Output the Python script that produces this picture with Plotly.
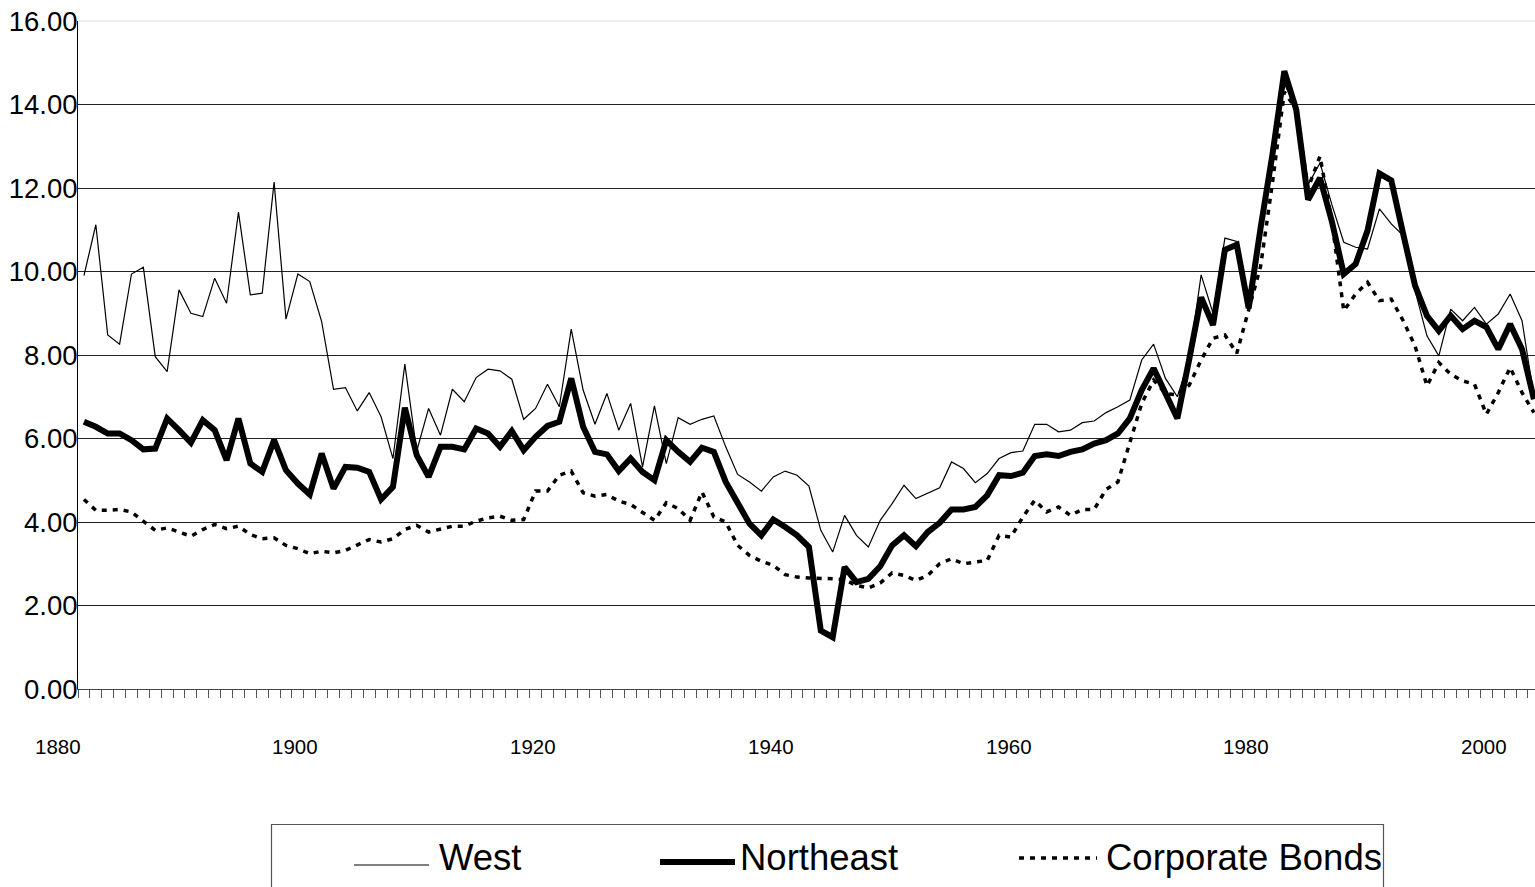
import plotly.graph_objects as go

# ---------------- data ----------------
years = list(range(1880, 2003))

west = [
    9.90, 11.12, 8.48, 8.26, 9.94, 10.10, 7.96, 7.60, 9.56, 9.00,
    8.92, 9.84, 9.24, 11.42, 9.44, 9.48, 12.14, 8.86, 9.94, 9.76,
    8.80, 7.18, 7.22, 6.66, 7.10, 6.52, 5.52, 7.78, 5.70, 6.72,
    6.08, 7.18, 6.88, 7.46, 7.66, 7.62, 7.42, 6.46, 6.72, 7.30,
    6.76, 8.62, 7.16, 6.34, 7.08, 6.20, 6.84, 5.32, 6.78, 5.40,
    6.50, 6.34, 6.46, 6.54, 5.80, 5.14, 4.96, 4.74, 5.08, 5.22,
    5.12, 4.86, 3.80, 3.28, 4.16, 3.68, 3.40, 4.04, 4.44, 4.88,
    4.56, 4.70, 4.82, 5.44, 5.28, 4.94, 5.16, 5.52, 5.66, 5.70,
    6.34, 6.34, 6.16, 6.20, 6.38, 6.42, 6.62, 6.76, 6.92, 7.88,
    8.26, 7.44, 7.00, 7.90, 9.92, 9.00, 10.80, 10.72, 9.12, 10.90,
    12.70, 14.50, 13.90, 12.08, 12.60, 11.60, 10.70, 10.58, 10.54, 11.50,
    11.14, 10.86, 9.54, 8.46, 7.98, 9.10, 8.82, 9.14, 8.74, 8.98,
    9.46, 8.82, 7.00,
]

northeast = [
    6.40, 6.28, 6.12, 6.12, 5.96, 5.74, 5.76, 6.48, 6.20, 5.90,
    6.44, 6.20, 5.48, 6.48, 5.40, 5.20, 5.96, 5.24, 4.92, 4.66,
    5.64, 4.80, 5.32, 5.30, 5.20, 4.54, 4.84, 6.74, 5.60, 5.08,
    5.80, 5.80, 5.74, 6.24, 6.12, 5.80, 6.18, 5.72, 6.04, 6.30,
    6.40, 7.44, 6.28, 5.68, 5.62, 5.22, 5.52, 5.20, 5.00, 5.96,
    5.68, 5.44, 5.78, 5.68, 4.96, 4.48, 3.96, 3.68, 4.06, 3.88,
    3.68, 3.40, 1.40, 1.24, 2.92, 2.56, 2.64, 2.94, 3.44, 3.68,
    3.42, 3.76, 3.98, 4.30, 4.30, 4.36, 4.64, 5.12, 5.10, 5.18,
    5.58, 5.62, 5.58, 5.68, 5.74, 5.88, 5.96, 6.12, 6.48, 7.16,
    7.68, 7.08, 6.48, 7.90, 9.38, 8.72, 10.52, 10.64, 9.12, 11.04,
    12.80, 14.80, 13.88, 11.72, 12.24, 11.20, 9.94, 10.18, 10.98, 12.35,
    12.18, 10.90, 9.66, 8.94, 8.58, 8.94, 8.62, 8.82, 8.67, 8.14,
    8.74, 8.14, 6.94,
]

corporate_bonds = [
    4.54, 4.28, 4.28, 4.30, 4.24, 4.02, 3.80, 3.86, 3.76, 3.66,
    3.82, 3.94, 3.84, 3.90, 3.70, 3.60, 3.62, 3.44, 3.36, 3.24,
    3.30, 3.26, 3.32, 3.46, 3.58, 3.52, 3.60, 3.82, 3.92, 3.76,
    3.82, 3.90, 3.90, 4.02, 4.10, 4.14, 4.04, 4.06, 4.74, 4.74,
    5.12, 5.22, 4.70, 4.62, 4.66, 4.50, 4.42, 4.24, 4.04, 4.46,
    4.32, 4.04, 4.72, 4.12, 4.00, 3.44, 3.20, 3.06, 2.96, 2.74,
    2.68, 2.66, 2.66, 2.64, 2.62, 2.48, 2.42, 2.54, 2.78, 2.72,
    2.60, 2.72, 3.00, 3.12, 3.00, 3.04, 3.08, 3.68, 3.64, 4.12,
    4.52, 4.24, 4.36, 4.16, 4.30, 4.30, 4.78, 4.96, 5.88, 6.84,
    7.40, 7.08, 7.04, 7.28, 7.88, 8.40, 8.48, 8.04, 9.08, 10.12,
    12.12, 14.30, 13.88, 12.00, 12.76, 11.20, 9.06, 9.46, 9.74, 9.30,
    9.34, 8.82, 8.22, 7.26, 7.82, 7.54, 7.38, 7.30, 6.58, 7.10,
    7.70, 7.10, 6.62,
]

x_tick_labels = ["1880", "1900", "1920", "1940", "1960", "1980", "2000"]
y_tick_values = [0, 2, 4, 6, 8, 10, 12, 14, 16]
series_names = ["West", "Northeast", "Corporate Bonds"]

# ---------------- layout geometry ----------------
W, H = 1535, 887
L, R, T, B = 78, 0, 21, 198
plot_w = W - L - R
plot_h = H - T - B
px_per_year = 11.885
x_start = 1879.5
x_end = x_start + plot_w / px_per_year
FONT = "Liberation Sans, Arial, Helvetica, sans-serif"


def xp(px):
    return (px - L) / plot_w


def yp(py):
    return (H - B - py) / plot_h


styles = [
    dict(color="black", width=1.2),
    dict(color="black", width=6),
    dict(color="black", width=3.5, dash="5px,6px"),
]

fig = go.Figure()
for name, vals, st in zip(series_names, [west, northeast, corporate_bonds], styles):
    fig.add_trace(go.Scatter(x=years, y=vals, mode="lines", name=name,
                             line=st, showlegend=False, hoverinfo="x+y+name"))

# x-axis tick labels (sit ~2.2 years left of their category, as in the original)
annotations = []
for lbl in x_tick_labels:
    annotations.append(dict(
        x=(int(lbl) - 2.2 - x_start) / (x_end - x_start), xref="paper",
        y=0, yref="paper", yshift=-57, yanchor="middle", xanchor="center",
        text=lbl, showarrow=False, font=dict(family=FONT, size=20.5, color="black")))

# legend (drawn manually to match the original's box and sample lengths)
legend_items = [
    # (sample x0, x1, y, text x)
    (354, 429, 865, 437),
    (660, 735, 862, 738),
    (1019, 1097, 858, 1104),
]
shapes = [
    dict(type="rect", xref="paper", yref="paper",
         x0=xp(271.5), x1=xp(1383.5), y0=yp(824.5), y1=yp(905),
         line=dict(color="#555555", width=1.2), fillcolor="white", layer="above"),
    dict(type="line", xref="paper", yref="paper", x0=0, x1=1, y0=1, y1=1,
         line=dict(color="#eeeeee", width=2), layer="above"),
]
for (sx0, sx1, sy, tx), name, st in zip(legend_items, series_names, styles):
    shapes.append(dict(type="line", xref="paper", yref="paper",
                       x0=xp(sx0), x1=xp(sx1), y0=yp(sy), y1=yp(sy),
                       line=st, layer="above"))
    annotations.append(dict(x=xp(tx), xref="paper", y=yp(857), yref="paper",
                            xanchor="left", yanchor="middle", text=name,
                            showarrow=False,
                            font=dict(family=FONT, size=36.5, color="black")))

fig.update_layout(
    width=W, height=H,
    margin=dict(l=L, r=R, t=T, b=B, pad=0),
    paper_bgcolor="white", plot_bgcolor="white",
    font=dict(family=FONT, color="black"),
    showlegend=False,
    xaxis=dict(range=[x_start, x_end], showgrid=False, zeroline=False,
               showline=True, linecolor="#444444", linewidth=1,
               ticks="outside", tick0=x_start, dtick=1, ticklen=8,
               tickcolor="#555555", tickwidth=1, showticklabels=False),
    yaxis=dict(range=[0, 16], tickvals=y_tick_values, tickformat=".2f",
               showgrid=True, gridcolor="#222222", gridwidth=1,
               zeroline=False, showline=True, linecolor="black", linewidth=1,
               ticks="", ticklabelstandoff=-6,
               tickfont=dict(family=FONT, size=27.5, color="black")),
    annotations=annotations,
    shapes=shapes,
)

fig.write_html(
    "out.html",
    config={"displayModeBar": False},
    post_script="document.body.style.margin='0';document.body.style.padding='0';"
                "document.body.style.overflow='hidden';",
)
